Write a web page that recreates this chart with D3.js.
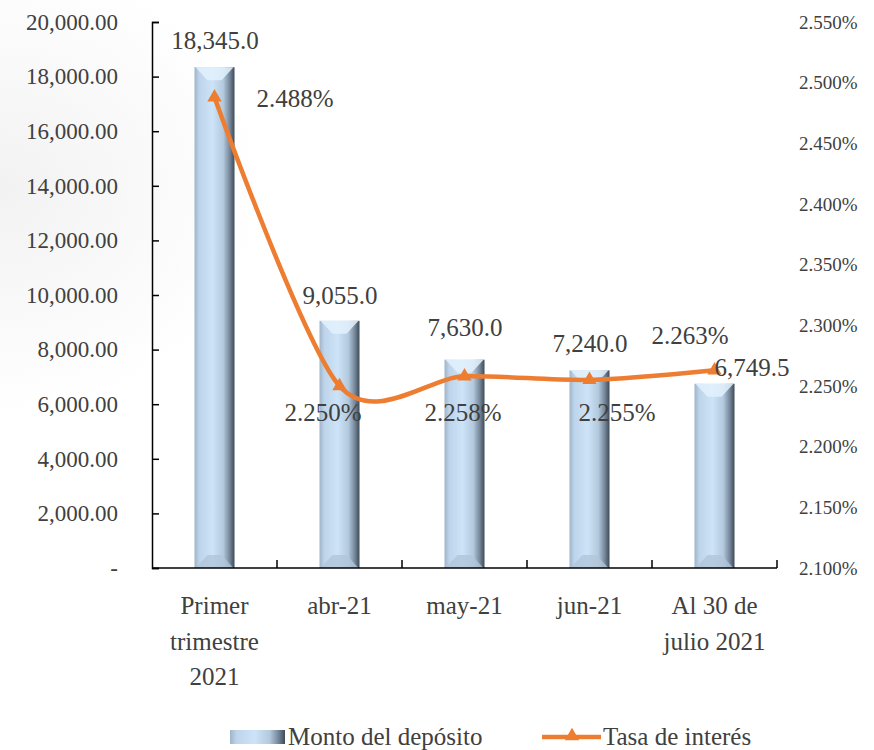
<!DOCTYPE html>
<html><head><meta charset="utf-8">
<script src="https://cdn.jsdelivr.net/npm/d3@7"></script>
<style>body{margin:0;background:#fff}</style>
</head><body><div id="chart"></div>
<script>
const categories = [["Primer","trimestre","2021"],["abr-21"],["may-21"],["jun-21"],["Al 30 de","julio 2021"]];
const deposits = [18345.0, 9055.0, 7630.0, 7240.0, 6749.5];
const rates = [2.488, 2.250, 2.258, 2.255, 2.263];
const leftTicks = d3.range(0, 20001, 2000);
const rightTicks = d3.range(2.10, 2.5501, 0.05);

const FONT = '"Liberation Serif", "Times New Roman", "DejaVu Serif", serif';
const W = 874, H = 750;
const svg = d3.select('#chart').append('svg').attr('width',W).attr('height',H)
  .attr('font-family',FONT);
const defs = svg.append('defs');

let bg = defs.append('radialGradient').attr('id','bg').attr('cx','0').attr('cy','0.25').attr('r','0.3');
bg.append('stop').attr('offset','0').attr('stop-color','#f2f2f2');
bg.append('stop').attr('offset','1').attr('stop-color','#ffffff');
svg.append('rect').attr('width',W).attr('height',H).attr('fill','url(#bg)');

let bar = defs.append('linearGradient').attr('id','bar');
[[0,'#9fb4c9'],[0.12,'#bdd4ea'],[0.45,'#cde3f8'],[0.72,'#b3c9de'],[0.88,'#76889b'],[1,'#3e4a57']]
  .forEach(s => bar.append('stop').attr('offset',s[0]).attr('stop-color',s[1]));

const x = d3.scaleBand().domain(d3.range(categories.length)).range([152,777]);
const y = d3.scaleLinear().domain([0,20000]).range([568,22]);
const y2 = d3.scaleLinear().domain([2.10,2.55]).range([568,22]);

// bars
const bw = 40;
const bars = svg.append('g').selectAll('g').data(deposits).enter().append('g');
bars.each(function(d,i){
  let g = d3.select(this);
  let x0 = x(i)+x.bandwidth()/2-bw/2, y0 = y(d), h = y(0)-y(d), b = 13;
  g.append('rect').attr('x',x0).attr('y',y0).attr('width',bw).attr('height',h).attr('fill','url(#bar)');
  g.append('path').attr('d',`M${x0+1},${y0}L${x0+bw-1},${y0}L${x0+bw-b},${y0+b}L${x0+b},${y0+b}Z`).attr('fill','#e3f1fd').attr('opacity',0.85);
  g.append('path').attr('d',`M${x0+1},${y0+h}L${x0+bw-1},${y0+h}L${x0+bw-b},${y0+h-b}L${x0+b},${y0+h-b}Z`).attr('fill','#b2c6d9').attr('opacity',0.8);
});

// axes
svg.append('g').attr('transform','translate(152,0)')
  .call(d3.axisLeft(y).tickValues(leftTicks).tickSize(-7).tickPadding(34)
    .tickFormat(d => d===0 ? '-' : d3.format(',.2f')(d)))
  .call(g => {
    g.attr('font-family',FONT);
    g.select('.domain').attr('stroke','#000').attr('stroke-width',1.5);
    g.selectAll('.tick line').attr('stroke','#000').attr('stroke-width',1.5);
    g.selectAll('text').style('font-size','23px').attr('fill','#404040');
  });
svg.append('g').attr('transform','translate(777,0)')
  .call(d3.axisRight(y2).tickValues(rightTicks).tickSize(0).tickPadding(22)
    .tickFormat(d => d3.format('.3f')(d)+'%'))
  .call(g => {
    g.attr('font-family',FONT);
    g.select('.domain').remove();
    g.selectAll('text').style('font-size','19px').attr('fill','#404040');
  });
const xa = svg.append('g').attr('transform','translate(0,568)')
  .call(d3.axisBottom(x).tickSize(0).tickFormat(''));
xa.select('.domain').attr('stroke','#000').attr('stroke-width',1.5).attr('d','M152,0H777');
xa.selectAll('.bnd').data(d3.range(1,categories.length+1)).enter().append('line')
  .attr('x1',i=>x(0)+i*x.bandwidth()).attr('x2',i=>x(0)+i*x.bandwidth())
  .attr('y1',0).attr('y2',-8).attr('stroke','#000').attr('stroke-width',1.5);
categories.forEach((c,i) => {
  let t = svg.append('text').attr('x',x(i)+x.bandwidth()/2).attr('y',614)
    .attr('text-anchor','middle').attr('fill','#404040').style('font-size','25px');
  c.forEach((s,j) => t.append('tspan').attr('x',x(i)+x.bandwidth()/2).attr('dy',j?35.5:0).text(s));
});

// line
const pts = rates.map((r,i) => [x(i)+x.bandwidth()/2, y2(r)]);
svg.append('path').attr('d',d3.line().curve(d3.curveCardinal.tension(0.15))(pts))
  .attr('fill','none').attr('stroke','#ED7D31').attr('stroke-width',4.5);
svg.append('g').selectAll('path').data(pts).enter().append('path')
  .attr('transform',p=>`translate(${p[0]},${p[1]})`)
  .attr('d',d3.symbol(d3.symbolTriangle,90)).attr('fill','#ED7D31');

// labels
const barLabelPos = [[215,49],[340,304],[465,336],[590,352],[752,376]];
svg.append('g').selectAll('text').data(deposits).enter().append('text')
  .attr('x',(d,i)=>barLabelPos[i][0]).attr('y',(d,i)=>barLabelPos[i][1])
  .attr('text-anchor','middle').attr('fill','#404040').style('font-size','25px')
  .text(d => d3.format(',.1f')(d));
const rateLabelPos = [[295,107],[323,421],[463,421],[617,421],[690,344]];
svg.append('g').selectAll('text').data(rates).enter().append('text')
  .attr('x',(d,i)=>rateLabelPos[i][0]).attr('y',(d,i)=>rateLabelPos[i][1])
  .attr('text-anchor','middle').attr('fill','#404040').style('font-size','25px')
  .text(d => d3.format('.3f')(d)+'%');

// legend
const lg = svg.append('g');
lg.append('rect').attr('x',230).attr('y',730).attr('width',55).attr('height',14).attr('fill','url(#bar)');
lg.append('text').attr('x',288).attr('y',745).attr('fill','#404040').style('font-size','25px').text('Monto del depósito');
lg.append('line').attr('x1',542).attr('x2',601).attr('y1',737).attr('y2',737).attr('stroke','#ED7D31').attr('stroke-width',4.5);
lg.append('path').attr('transform','translate(572,736)').attr('d',d3.symbol(d3.symbolTriangle,90)).attr('fill','#ED7D31');
lg.append('text').attr('x',603).attr('y',745).attr('fill','#404040').style('font-size','25px').text('Tasa de interés');
</script></body></html>
